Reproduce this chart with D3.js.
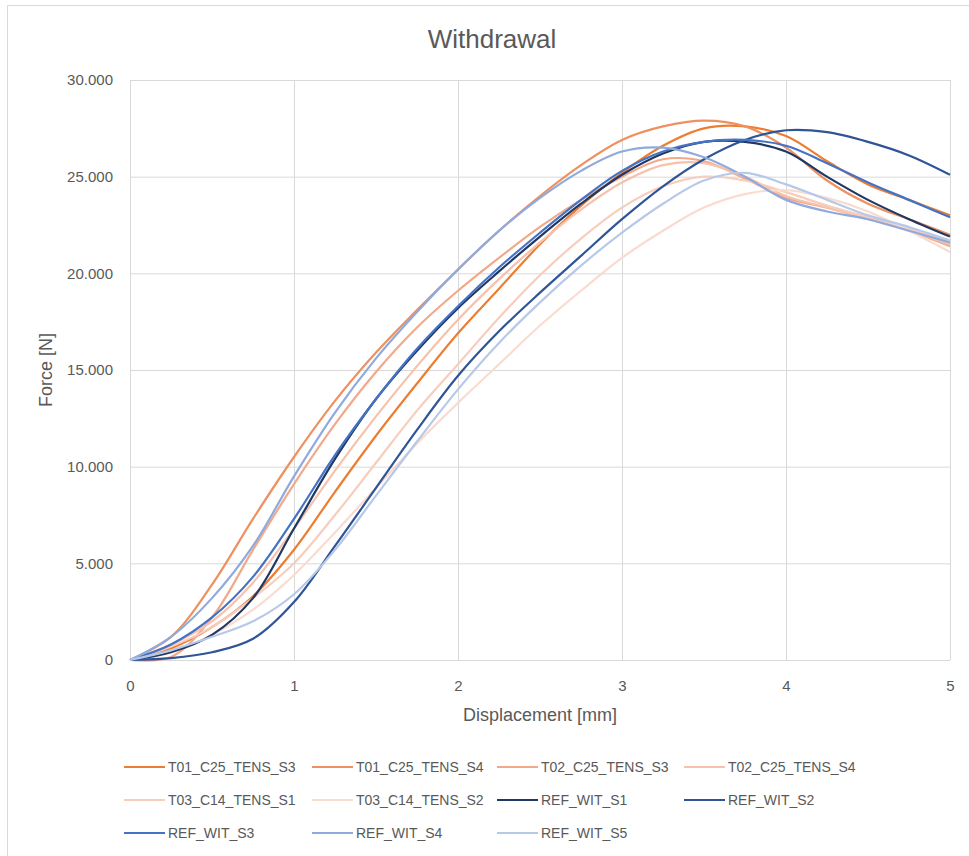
<!DOCTYPE html>
<html>
<head>
<meta charset="utf-8">
<script src="https://cdn.jsdelivr.net/npm/d3@7"></script>
<style>
  html, body { margin: 0; padding: 0; background: #fff; }
  svg { display: block; font-family: "Liberation Sans", Arial, sans-serif; }
</style>
</head>
<body>
<svg id="chart" width="969" height="856"></svg>
<script>
// ---------- data (displacement in mm, force in N) ----------
const displacement = [0, 0.25, 0.5, 0.75, 1, 1.25, 1.5, 1.75, 2, 2.25, 2.5, 2.75, 3, 3.25, 3.5, 3.75, 4, 4.25, 4.5, 4.75, 5];

const T01_C25_TENS_S3 = [0, 600, 1700, 3300, 5700, 8700, 11600, 14300, 16900, 19200, 21500, 23500, 25200, 26600, 27500, 27600, 27100, 25800, 24600, 23800, 23000];
const T01_C25_TENS_S4 = [0, 1200, 3900, 7300, 10500, 13400, 15900, 18100, 20200, 22200, 24000, 25600, 26900, 27600, 27900, 27600, 26500, 24800, 23600, 22800, 22000];
const T02_C25_TENS_S3 = [0, 150, 2200, 5700, 9100, 12200, 14900, 17200, 19100, 20800, 22400, 23800, 25000, 25900, 25800, 24900, 23900, 23400, 22900, 22200, 21400];
const T02_C25_TENS_S4 = [0, 800, 2000, 4000, 6800, 9800, 12600, 15200, 17600, 19700, 21600, 23300, 24700, 25600, 25700, 25000, 24000, 23400, 22800, 22200, 21500];
const T03_C14_TENS_S1 = [0, 700, 1700, 3200, 5000, 7500, 10200, 12900, 15300, 17700, 19900, 21800, 23400, 24500, 25000, 24800, 24200, 23500, 22900, 22300, 21700];
const T03_C14_TENS_S2 = [0, 400, 1300, 2600, 4400, 6600, 8900, 11200, 13300, 15300, 17300, 19100, 20800, 22200, 23400, 24100, 24300, 23900, 23200, 22200, 21100];
const REF_WIT_S1 = [0, 400, 1300, 3200, 6800, 10400, 13500, 16000, 18200, 20100, 21900, 23600, 25100, 26200, 26800, 26800, 26300, 25000, 23800, 22800, 21900];
const REF_WIT_S2 = [0, 100, 400, 1100, 3000, 5900, 8900, 11900, 14700, 17000, 19000, 20900, 22800, 24500, 25900, 26900, 27400, 27300, 26800, 26100, 25100];
const REF_WIT_S3 = [0, 800, 2200, 4300, 7300, 10600, 13500, 16100, 18300, 20300, 22100, 23800, 25300, 26300, 26800, 26900, 26600, 25700, 24700, 23800, 22900];
const REF_WIT_S4 = [0, 1200, 3200, 5900, 9500, 12800, 15600, 18000, 20200, 22200, 23900, 25300, 26300, 26500, 26000, 25000, 23800, 23200, 22800, 22200, 21600];
const REF_WIT_S5 = [0, 500, 1200, 2000, 3400, 5700, 8500, 11300, 14000, 16400, 18500, 20400, 22100, 23600, 24800, 25200, 24600, 23800, 23000, 22400, 21700];

const seriesNames = ["T01_C25_TENS_S3", "T01_C25_TENS_S4", "T02_C25_TENS_S3", "T02_C25_TENS_S4",
  "T03_C14_TENS_S1", "T03_C14_TENS_S2", "REF_WIT_S1", "REF_WIT_S2", "REF_WIT_S3", "REF_WIT_S4", "REF_WIT_S5"];
const seriesValues = [T01_C25_TENS_S3, T01_C25_TENS_S4, T02_C25_TENS_S3, T02_C25_TENS_S4,
  T03_C14_TENS_S1, T03_C14_TENS_S2, REF_WIT_S1, REF_WIT_S2, REF_WIT_S3, REF_WIT_S4, REF_WIT_S5];

const xTicks = [0, 1, 2, 3, 4, 5];
const yTicks = [0, 5000, 10000, 15000, 20000, 25000, 30000];

// ---------- styling ----------
const colors = ["#ED7D31", "#EE9060", "#F2A98A", "#F6C2AC", "#F8CDBC", "#FADBD0",
  "#203864", "#2F5597", "#4472C4", "#8FAADC", "#B7C9E8"];
const GRID = "#D9D9D9", TEXT = "#595959";

const W = 969, H = 856;
const m = { l: 130, r: 950, t: 80, b: 660 };

const svg = d3.select("#chart");
svg.append("rect").attr("width", W).attr("height", H).attr("fill", "#fff");
// chart frame (cropped at right/bottom in the reference)
svg.append("rect").attr("x", 7.5).attr("y", 5.5).attr("width", 1000).attr("height", 1000)
  .attr("fill", "none").attr("stroke", GRID);

const x = d3.scaleLinear().domain([0, 5]).range([m.l, m.r]);
const y = d3.scaleLinear().domain([0, 30000]).range([m.b, m.t]);

const de = d3.formatLocale({ decimal: ",", thousands: ".", grouping: [3], currency: ["", "€"] });
const fmt = de.format(",");

// gridlines
const gy = svg.append("g").attr("transform", `translate(${m.l},0)`)
  .call(d3.axisLeft(y).tickValues(yTicks).tickSize(-(m.r - m.l)).tickFormat(fmt).tickPadding(17));
const gx = svg.append("g").attr("transform", `translate(0,${m.b})`)
  .call(d3.axisBottom(x).tickValues(xTicks).tickSize(-(m.b - m.t)).tickFormat(d3.format("d")).tickPadding(20));
[gx, gy].forEach((g) => {
  g.select(".domain").remove();
  g.selectAll(".tick line").attr("stroke", GRID).attr("stroke-width", 1);
  g.selectAll(".tick text").attr("fill", TEXT).attr("font-size", 15).attr("font-family", "Liberation Sans, Arial, sans-serif");
});
gx.selectAll(".tick text").attr("dy", "0.71em");

// series (smoothed like Excel's smoothed lines)
const line = d3.line().x((d) => x(d[0])).y((d) => y(d[1])).curve(d3.curveCatmullRom.alpha(0.5));
seriesValues.forEach((vals, i) => {
  svg.append("path")
    .datum(displacement.map((d, j) => [d, vals[j]]))
    .attr("fill", "none")
    .attr("stroke", colors[i])
    .attr("stroke-width", 2.2)
    .attr("stroke-linejoin", "round")
    .attr("d", line);
});

// title & axis titles
svg.append("text").attr("x", 492).attr("y", 48).attr("text-anchor", "middle")
  .attr("font-size", 26).attr("fill", TEXT).text("Withdrawal");
svg.append("text").attr("x", 540).attr("y", 721).attr("text-anchor", "middle")
  .attr("font-size", 18).attr("fill", TEXT).text("Displacement [mm]");
svg.append("text").attr("transform", "translate(52,370) rotate(-90)").attr("text-anchor", "middle")
  .attr("font-size", 18).attr("fill", TEXT).text("Force [N]");

// legend
const legCols = [124, 312, 497, 684];
const legRows = [767, 800, 833];
const leg = svg.append("g");
seriesNames.forEach((name, i) => {
  const cx = legCols[i % 4], cy = legRows[Math.floor(i / 4)];
  leg.append("line").attr("x1", cx).attr("x2", cx + 41).attr("y1", cy).attr("y2", cy)
    .attr("stroke", colors[i]).attr("stroke-width", 2.2);
  leg.append("text").attr("x", cx + 44).attr("y", cy).attr("dy", "0.35em")
    .attr("font-size", 14).attr("fill", TEXT).text(name);
});
</script>
</body>
</html>
